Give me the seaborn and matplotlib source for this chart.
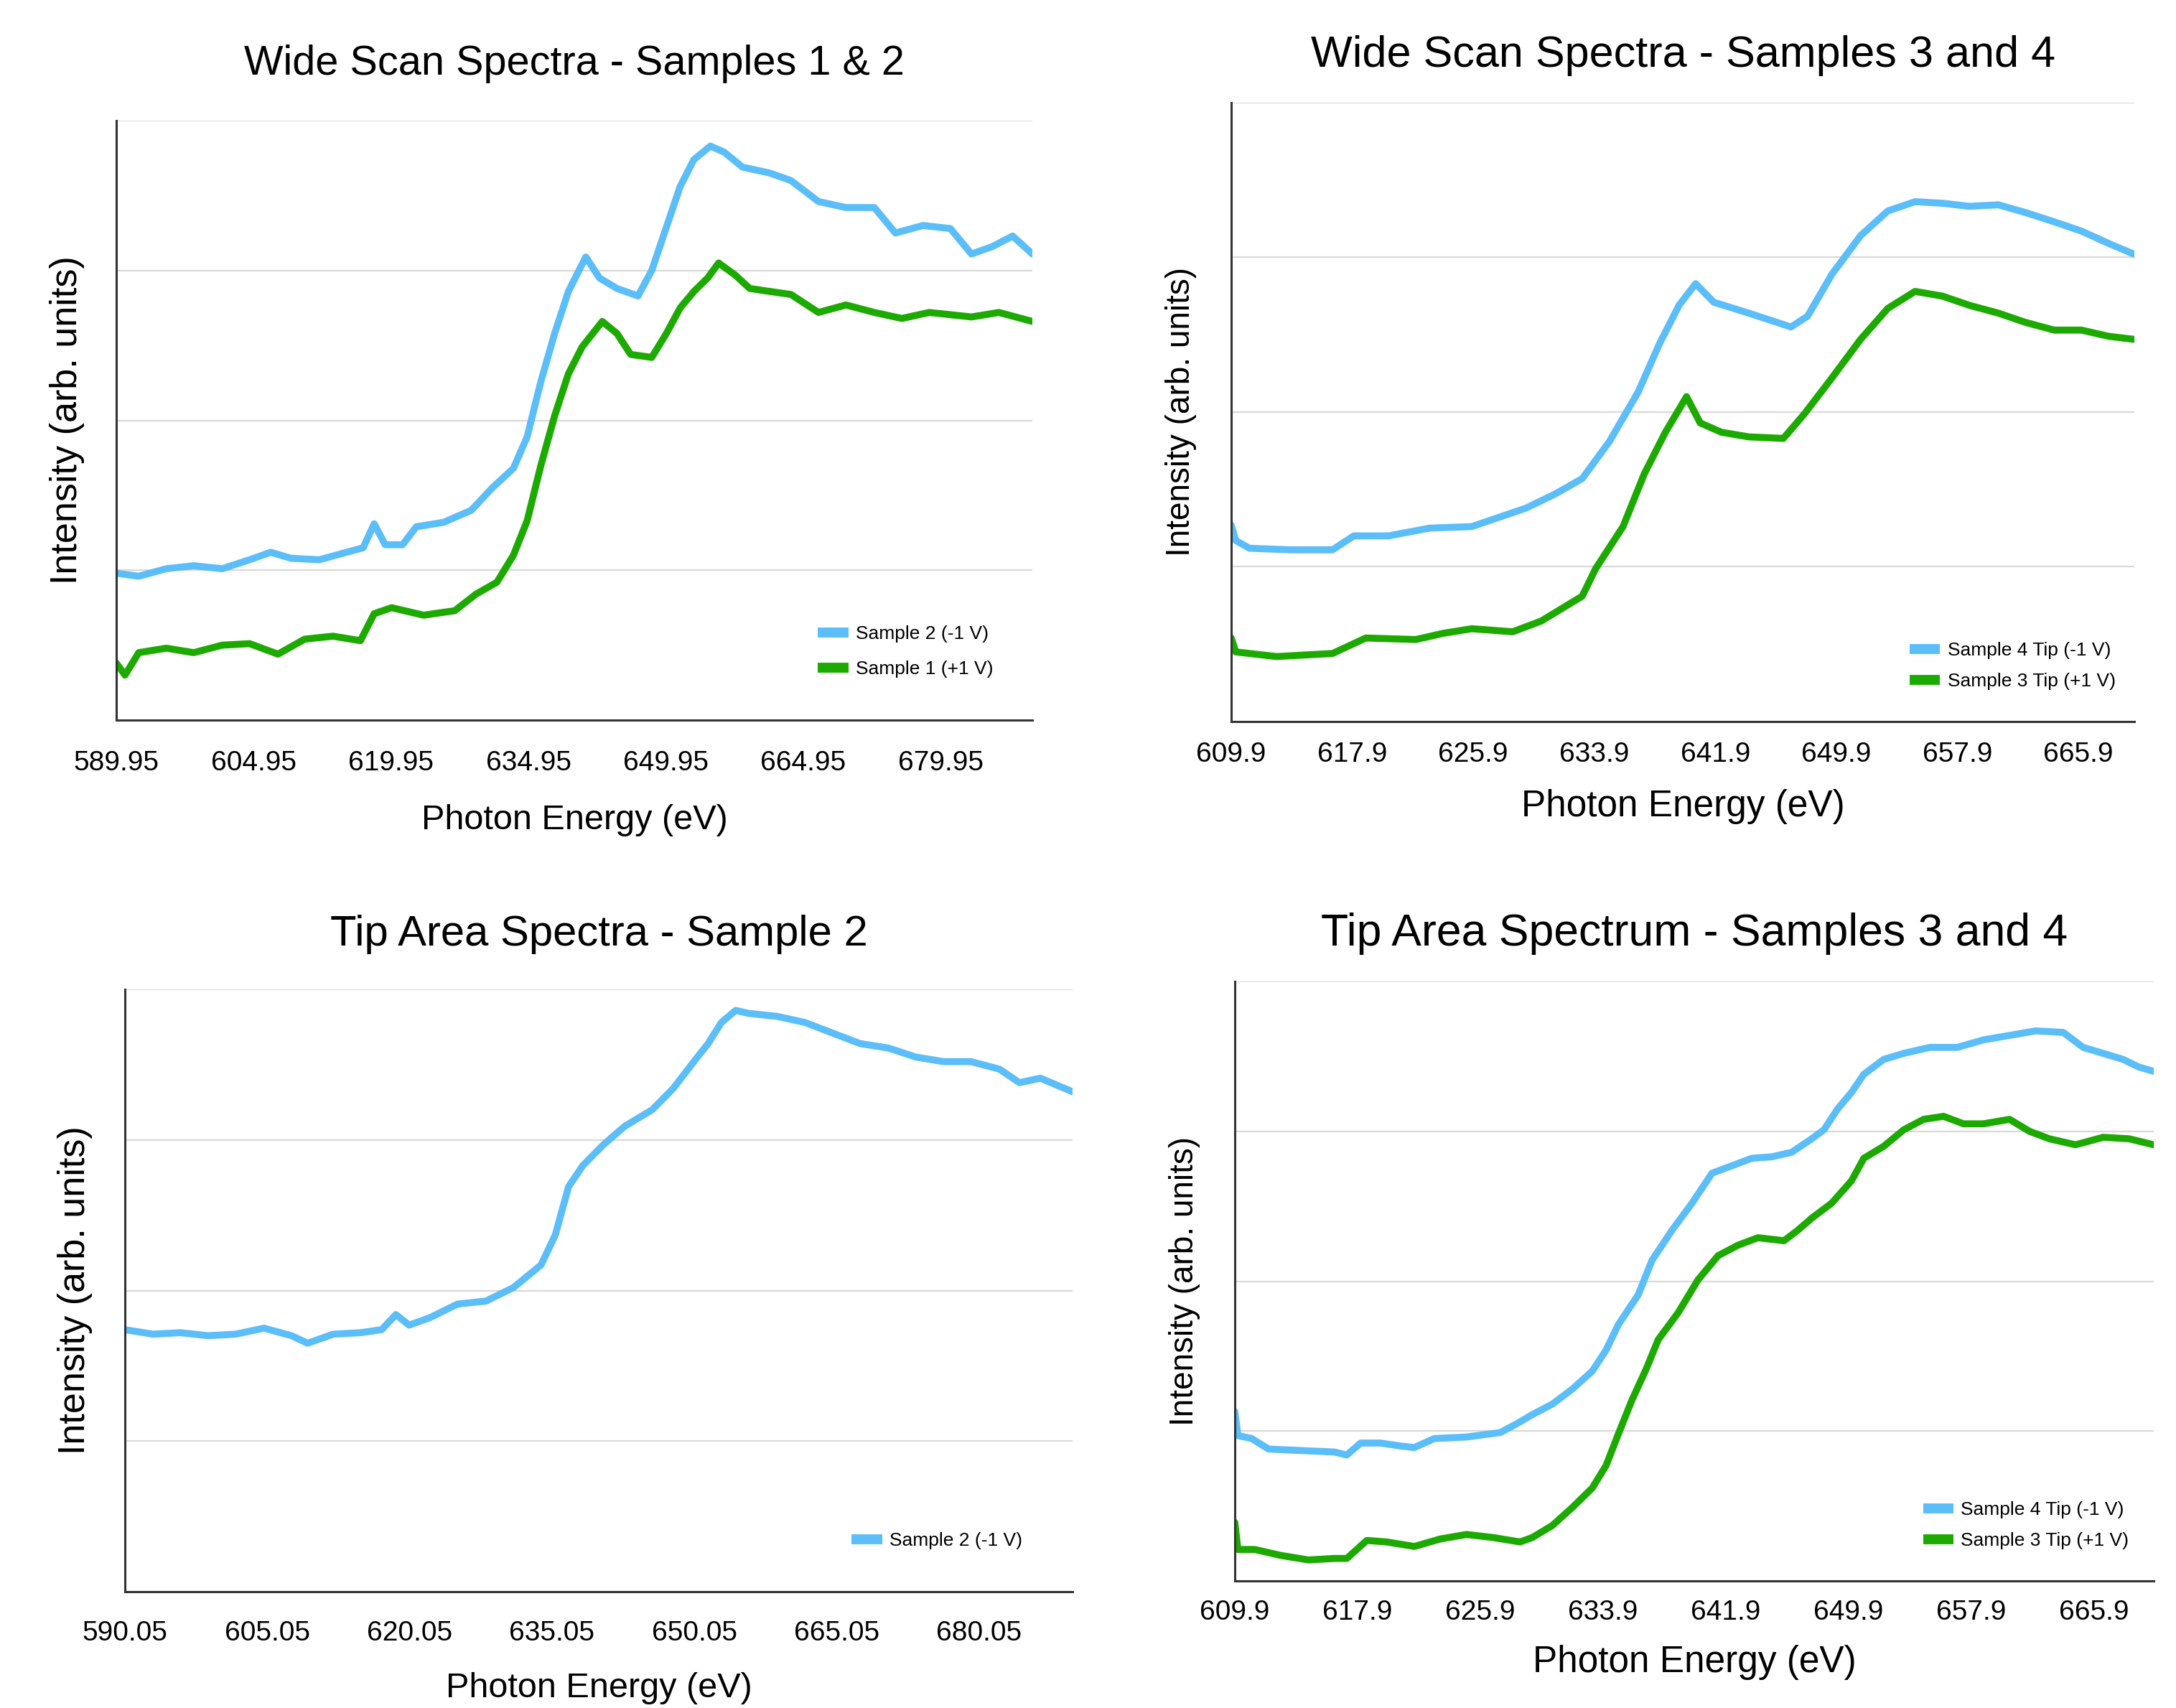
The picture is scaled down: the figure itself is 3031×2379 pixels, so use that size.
import pandas as pd
import numpy as np
import matplotlib
matplotlib.use("Agg")
import matplotlib.pyplot as plt
import seaborn as sns

# Colours of the two traces
BLUE = "#5BBEF9"
GREEN = "#1DAA00"

# ---- Panel 1: wide scan, samples 1 & 2 ----
p1_ticks = ["589.95", "604.95", "619.95", "634.95", "649.95", "664.95", "679.95"]
p1_blue_ev = [589.95, 592.4, 595.4, 598.4, 601.5, 604.5, 606.8, 609.0, 612.1, 615.1, 616.9, 618.1,
              619.3, 621.2, 622.7, 625.7, 628.7, 631.0, 633.3, 634.8, 636.3, 637.8, 639.3, 641.2,
              642.7, 644.6, 646.9, 648.4, 649.95, 651.5, 653.0, 654.8, 656.3, 658.3, 661.3, 663.6,
              666.6, 669.6, 672.7, 675.0, 678.0, 681.0, 683.3, 685.6, 687.8, 689.95]
p1_blue = [0.98, 0.96, 1.01, 1.03, 1.01, 1.07, 1.12, 1.08, 1.07, 1.12, 1.15, 1.31,
           1.17, 1.17, 1.29, 1.32, 1.40, 1.55, 1.68, 1.89, 2.26, 2.58, 2.86, 3.09,
           2.95, 2.88, 2.83, 3.00, 3.28, 3.56, 3.74, 3.83, 3.79, 3.69, 3.65, 3.60,
           3.46, 3.42, 3.42, 3.25, 3.30, 3.28, 3.11, 3.16, 3.23, 3.11]
p1_green_ev = [589.95, 590.9, 592.4, 595.4, 598.4, 601.5, 604.5, 607.6, 610.5, 613.6, 616.6, 618.1,
               620.0, 623.5, 626.9, 629.2, 631.5, 633.3, 634.8, 636.3, 637.8, 639.3, 640.8, 643.0,
               644.6, 646.1, 648.4, 650.0, 651.5, 653.0, 654.5, 655.7, 657.5, 659.1, 661.3, 663.6,
               666.6, 669.6, 672.7, 675.7, 678.7, 683.3, 686.3, 689.95]
p1_green = [0.38, 0.30, 0.45, 0.48, 0.45, 0.50, 0.51, 0.44, 0.54, 0.56, 0.53, 0.71,
            0.75, 0.70, 0.73, 0.84, 0.92, 1.10, 1.33, 1.70, 2.03, 2.31, 2.49, 2.66,
            2.58, 2.44, 2.42, 2.58, 2.75, 2.86, 2.95, 3.05, 2.97, 2.88, 2.86, 2.84,
            2.72, 2.77, 2.72, 2.68, 2.72, 2.69, 2.72, 2.66]

# ---- Panel 2: wide scan, samples 3 and 4 ----
p2_ticks = ["609.9", "617.9", "625.9", "633.9", "641.9", "649.9", "657.9", "665.9"]
p2_blue_ev = [609.9, 610.2, 611.1, 613.8, 616.6, 618.0, 620.3, 623.0, 625.8, 627.6, 629.4, 631.3,
              633.1, 634.9, 636.8, 638.2, 639.5, 640.6, 641.8, 644.1, 646.9, 648.0, 649.6, 651.5,
              653.3, 655.1, 656.9, 658.7, 660.6, 662.4, 664.3, 666.1, 667.9, 669.6]
p2_blue = [1.27, 1.17, 1.12, 1.11, 1.11, 1.20, 1.20, 1.25, 1.26, 1.32, 1.38, 1.47,
           1.57, 1.81, 2.13, 2.44, 2.69, 2.83, 2.71, 2.64, 2.55, 2.62, 2.89, 3.14,
           3.30, 3.36, 3.35, 3.33, 3.34, 3.29, 3.23, 3.17, 3.09, 3.02]
p2_green_ev = [609.9, 610.2, 612.9, 616.6, 618.8, 622.1, 623.9, 625.8, 628.5, 630.4, 633.1, 634.0,
               635.8, 637.2, 638.6, 640.0, 640.9, 642.3, 644.1, 646.4, 647.8, 649.6, 651.5, 653.3,
               655.1, 656.9, 658.7, 660.6, 662.4, 664.3, 666.1, 667.9, 669.6]
p2_green = [0.54, 0.45, 0.42, 0.44, 0.54, 0.53, 0.57, 0.60, 0.58, 0.65, 0.81, 0.99,
            1.26, 1.60, 1.87, 2.10, 1.93, 1.87, 1.84, 1.83, 1.99, 2.22, 2.47, 2.67,
            2.78, 2.75, 2.69, 2.64, 2.58, 2.53, 2.53, 2.49, 2.47]

# ---- Panel 3: tip area, sample 2 ----
p3_ticks = ["590.05", "605.05", "620.05", "635.05", "650.05", "665.05", "680.05"]
p3_blue_ev = [590.05, 593.0, 595.9, 598.8, 601.7, 604.7, 607.6, 609.3, 612.0, 614.9, 617.1, 618.6,
              620.0, 622.2, 625.1, 628.1, 631.0, 633.9, 635.4, 636.8, 638.3, 640.5, 642.7, 645.6,
              647.8, 650.0, 651.5, 652.9, 654.4, 655.8, 658.8, 661.7, 664.6, 667.5, 670.5, 673.4,
              676.3, 679.2, 682.2, 684.3, 686.5, 689.9]
p3_blue = [1.74, 1.71, 1.72, 1.70, 1.71, 1.75, 1.70, 1.65, 1.71, 1.72, 1.74, 1.84,
           1.77, 1.82, 1.91, 1.93, 2.02, 2.17, 2.37, 2.69, 2.83, 2.97, 3.09, 3.20,
           3.34, 3.52, 3.64, 3.78, 3.86, 3.84, 3.82, 3.78, 3.71, 3.64, 3.61, 3.55,
           3.52, 3.52, 3.47, 3.38, 3.41, 3.32]

# ---- Panel 4: tip area, samples 3 and 4 ----
p4_ticks = ["609.9", "617.9", "625.9", "633.9", "641.9", "649.9", "657.9", "665.9"]
p4_blue_ev = [609.9, 610.1, 611.0, 612.1, 614.2, 616.4, 617.2, 618.1, 619.4, 620.7, 621.6, 622.9,
              625.0, 627.2, 628.3, 629.3, 630.6, 631.9, 633.2, 634.1, 634.9, 636.2, 637.1, 638.4,
              639.7, 641.0, 642.3, 643.6, 644.9, 646.2, 647.5, 648.3, 649.2, 650.1, 650.9, 652.2,
              653.5, 655.2, 657.0, 658.7, 660.4, 662.1, 663.9, 665.2, 666.5, 667.8, 668.8, 669.8]
p4_blue = [1.13, 0.97, 0.95, 0.88, 0.87, 0.86, 0.84, 0.92, 0.92, 0.90, 0.89, 0.95,
           0.96, 0.99, 1.05, 1.11, 1.18, 1.28, 1.40, 1.54, 1.71, 1.91, 2.14, 2.34,
           2.52, 2.72, 2.77, 2.82, 2.83, 2.86, 2.95, 3.01, 3.15, 3.26, 3.38, 3.48,
           3.52, 3.56, 3.56, 3.61, 3.64, 3.67, 3.66, 3.56, 3.52, 3.48, 3.43, 3.40]
p4_green_ev = [609.9, 610.1, 611.2, 612.9, 614.7, 616.4, 617.2, 618.5, 619.8, 621.6, 623.3, 625.0,
               626.7, 628.5, 629.3, 630.6, 631.9, 633.2, 634.1, 634.9, 635.8, 636.7, 637.5, 638.8,
               640.1, 641.4, 642.7, 644.0, 645.7, 646.6, 647.5, 648.8, 650.1, 650.9, 652.2, 653.5,
               654.8, 656.1, 657.4, 658.7, 660.4, 661.7, 663.0, 664.7, 666.5, 668.2, 669.8]
p4_green = [0.39, 0.21, 0.21, 0.17, 0.14, 0.15, 0.15, 0.27, 0.26, 0.23, 0.28, 0.31,
            0.29, 0.26, 0.29, 0.37, 0.49, 0.62, 0.77, 0.98, 1.21, 1.41, 1.61, 1.79,
            2.01, 2.17, 2.24, 2.29, 2.27, 2.34, 2.42, 2.52, 2.67, 2.82, 2.90, 3.01,
            3.08, 3.10, 3.05, 3.05, 3.08, 3.00, 2.95, 2.91, 2.96, 2.95, 2.91]


def make_frame(series):
    """Stack (energy, intensity, label) series into a long table for seaborn."""
    parts = []
    for ev, vals, label in series:
        parts.append(pd.DataFrame({"energy": ev, "intensity": vals, "series": label}))
    return pd.concat(parts, ignore_index=True)


panels = [
    dict(title="Wide Scan Spectra - Samples 1 & 2",
         rect_px=(162, 168, 1438, 1003),
         ticks=p1_ticks, xlim=(589.95, 689.95),
         series=[(p1_blue_ev, p1_blue, "Sample 2 (-1 V)"),
                 (p1_green_ev, p1_green, "Sample 1 (+1 V)")],
         legend=(0.766, 0.158), legend_gap=0.95,
         title_size=41.5, title_pad=46, xlab_size=35, ylab_size=37.5,
         tick_pad=30, xlab_pad=28, ylab_pad=28),
    dict(title="Wide Scan Spectra - Samples 3 and 4",
         rect_px=(1715, 143, 2973, 1005),
         ticks=p2_ticks, xlim=(609.9, 669.6),
         series=[(p2_blue_ev, p2_blue, "Sample 4 Tip (-1 V)"),
                 (p2_green_ev, p2_green, "Sample 3 Tip (+1 V)")],
         legend=(0.751, 0.129), legend_gap=0.72,
         title_size=44, title_pad=36, xlab_size=37, ylab_size=33,
         tick_pad=20, xlab_pad=22, ylab_pad=31),
    dict(title="Tip Area Spectra - Sample 2",
         rect_px=(174, 1378, 1494, 2217),
         ticks=p3_ticks, xlim=(590.05, 689.9),
         series=[(p3_blue_ev, p3_blue, "Sample 2 (-1 V)")],
         legend=(0.767, 0.099), legend_gap=0.7,
         title_size=43, title_pad=44, xlab_size=35, ylab_size=37.5,
         tick_pad=29, xlab_pad=26, ylab_pad=29),
    dict(title="Tip Area Spectrum - Samples 3 and 4",
         rect_px=(1720, 1367, 3000, 2202),
         ticks=p4_ticks, xlim=(609.9, 669.8),
         series=[(p4_blue_ev, p4_blue, "Sample 4 Tip (-1 V)"),
                 (p4_green_ev, p4_green, "Sample 3 Tip (+1 V)")],
         legend=(0.749, 0.133), legend_gap=0.72,
         title_size=45, title_pad=36, xlab_size=37, ylab_size=33,
         tick_pad=19, xlab_pad=19, ylab_pad=31),
]

sns.set_style("white")
plt.rcParams["font.family"] = ["Liberation Sans", "DejaVu Sans"]
plt.rcParams["text.color"] = "black"
plt.rcParams["axes.labelcolor"] = "black"
plt.rcParams["xtick.color"] = "black"

W, H = 3031, 2379
fig = plt.figure(figsize=(W / 100, H / 100), dpi=100)

for p in panels:
    x0, y0, x1, y1 = p["rect_px"]
    ax = fig.add_axes([x0 / W, 1 - y1 / H, (x1 - x0) / W, (y1 - y0) / H])
    df = make_frame(p["series"])
    labels = [s[2] for s in p["series"]]
    palette = dict(zip(labels, [BLUE, GREEN][:len(labels)]))
    sns.lineplot(data=df, x="energy", y="intensity", hue="series", palette=palette,
                 hue_order=labels, linewidth=7, sort=False, estimator=None, ax=ax)

    ax.set_xlim(*p["xlim"])
    ax.set_ylim(0, 4)
    ax.set_yticks([1, 2, 3, 4])
    ax.set_yticklabels([])
    ax.yaxis.grid(True, color="#d9d9d9", linewidth=1.6)
    ax.set_axisbelow(True)
    ax.set_xticks([float(t) for t in p["ticks"]])
    ax.set_xticklabels(p["ticks"])
    ax.tick_params(axis="x", length=0, pad=p["tick_pad"], labelsize=28, labelcolor="black")
    ax.tick_params(axis="y", length=0)

    for side in ("top", "right"):
        ax.spines[side].set_visible(False)
    for side in ("left", "bottom"):
        ax.spines[side].set_color("#333333")
        ax.spines[side].set_linewidth(2.2)

    ax.set_title(p["title"], fontsize=p["title_size"], pad=p["title_pad"], color="black")
    ax.set_xlabel("Photon Energy (eV)", fontsize=p["xlab_size"], labelpad=p["xlab_pad"])
    ax.set_ylabel("Intensity (arb. units)", fontsize=p["ylab_size"], labelpad=p["ylab_pad"])

    leg = ax.legend(loc="upper left", bbox_to_anchor=p["legend"], frameon=False,
                    fontsize=19, handlelength=1.6, handletextpad=0.4,
                    labelspacing=p["legend_gap"], borderpad=0, borderaxespad=0)
    for line in leg.get_lines():
        line.set_linewidth(10)
        line.set_solid_capstyle("butt")

fig.savefig("out.png", dpi=100, facecolor="white")
